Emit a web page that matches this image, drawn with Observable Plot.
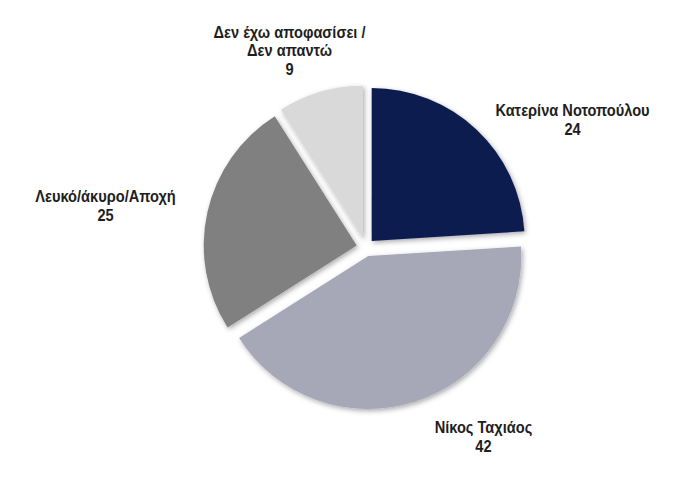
<!DOCTYPE html>
<html>
<head>
<meta charset="utf-8">
<script src="https://cdn.jsdelivr.net/npm/d3@7"></script>
<script src="https://cdn.jsdelivr.net/npm/@observablehq/plot@0.6"></script>
<style>
  html, body { margin: 0; padding: 0; background: #ffffff; }
  #chart svg { display: block; }
</style>
</head>
<body>
<div id="chart"></div>
<script>
// ---- data ----
const categories = [
  "Κατερίνα Νοτοπούλου",
  "Νίκος Ταχιάος",
  "Λευκό/άκυρο/Αποχή",
  "Δεν έχω αποφασίσει /\nΔεν απαντώ"
];
const values = [24, 42, 25, 9];
const colors = ["#0c1c50", "#a6a8b7", "#808080", "#d9d9d9"];

// ---- layout (not data) ----
const W = 700, H = 481;
const layout = { cx: 365.5, cy: 247.5, radius: 153, explode: 9, labelRadius: 187 };
const labelNudge = [[78.5, 7.8], [59.7, 10.7], [-78, -1.7], [-24.3, -17.9]];
const labelCondense = 0.86; // the reference uses a narrow typeface

const rows = categories.map((c, i) => ({ category: c, value: values[i], i }));
const arcs = d3.pie().sort(null).value(d => d.value)(rows);
const colorScale = Plot.scale({ color: { type: "ordinal", domain: categories, range: colors } });

const labels = arcs.map(a => {
  const mid = (a.startAngle + a.endAngle) / 2;
  const [nx, ny] = labelNudge[a.data.i];
  return {
    x: layout.cx + layout.labelRadius * Math.sin(mid) + nx,
    y: layout.cy - layout.labelRadius * Math.cos(mid) + ny,
    text: a.data.category + "\n" + a.data.value
  };
});

function pieMark(index, scales) {
  const sx = scales.x, sy = scales.y;
  const cx = sx(layout.cx), cy = sy(layout.cy);
  const r = sx(layout.cx + layout.radius) - cx;
  const ex = sx(layout.cx + layout.explode) - cx;
  const arcGen = d3.arc().innerRadius(0).outerRadius(r);
  const g = d3.create("svg:g");
  const f = g.append("defs").append("filter")
    .attr("id", "pieShadow").attr("x", "-20%").attr("y", "-20%").attr("width", "140%").attr("height", "140%");
  f.append("feDropShadow").attr("dx", 1.5).attr("dy", 2).attr("stdDeviation", 2.5)
    .attr("flood-color", "#000").attr("flood-opacity", 0.33);
  for (const a of arcs) {
    const mid = (a.startAngle + a.endAngle) / 2;
    const ox = ex * Math.sin(mid), oy = -ex * Math.cos(mid);
    g.append("path")
      .attr("d", arcGen(a))
      .attr("transform", `translate(${cx + ox},${cy + oy})`)
      .attr("fill", colorScale.apply(a.data.category))
      .attr("filter", "url(#pieShadow)");
  }
  return g.node();
}

const chart = Plot.plot({
  width: W,
  height: H,
  margin: 0,
  x: { domain: [0, W], range: [0, W], axis: null },
  y: { domain: [0, H], range: [0, H], axis: null },
  style: { fontFamily: "'Liberation Sans', Arial, sans-serif", background: "#ffffff" },
  marks: [
    pieMark,
    Plot.text(labels, {
      x: "x", y: "y", text: "text",
      fontSize: 17, fontWeight: "bold", lineHeight: 1.08,
      fill: "#1e1e1e", textAnchor: "middle", lineAnchor: "middle"
    })
  ]
});
chart.querySelectorAll("g[aria-label='text'] text").forEach(t => {
  const tr = t.getAttribute("transform") || "";
  t.setAttribute("transform", `${tr} scale(${labelCondense},1)`);
});
document.getElementById("chart").appendChild(chart);
</script>
</body>
</html>
